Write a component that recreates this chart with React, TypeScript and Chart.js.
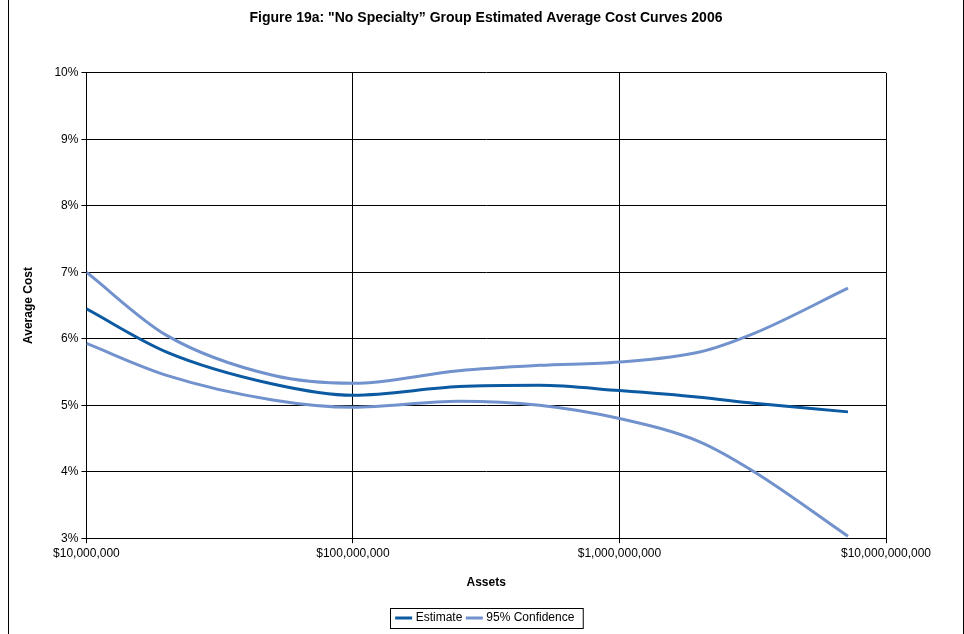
import { useEffect, useRef } from "react"
import { Chart, registerables } from "chart.js"

Chart.register(...registerables)

const assets = [1e7, 2e7, 5e7, 1e8, 2.5e8, 5e8, 1e9, 2e9, 3.2e9, 7.2e9]
const estimate = [6.45, 5.8, 5.32, 5.15, 5.28, 5.3, 5.22, 5.12, 5.03, 4.9]
const upper = [7.0, 6.05, 5.45, 5.33, 5.52, 5.6, 5.65, 5.8, 6.08, 6.76]
const lower = [5.93, 5.45, 5.08, 4.97, 5.06, 5.0, 4.8, 4.45, 4.0, 3.03]
const xTicks = [1e7, 1e8, 1e9, 1e10]

// border round the legend items only
const legendBox = {
  id: "legendBox",
  afterDraw(chart: Chart) {
    const l: any = chart.legend
    if (!l || !l.legendHitBoxes?.length) return
    const boxes = l.legendHitBoxes
    const left = Math.min(...boxes.map((b: any) => b.left)) - 8
    const right = Math.max(...boxes.map((b: any) => b.left + b.width)) + 8
    const top = Math.min(...boxes.map((b: any) => b.top)) - 4
    const bottom = Math.max(...boxes.map((b: any) => b.top + b.height)) + 4
    const ctx = chart.ctx
    ctx.save()
    ctx.strokeStyle = "#000"
    ctx.lineWidth = 1
    ctx.strokeRect(Math.round(left) + 0.5, Math.round(top) + 0.5, right - left, bottom - top)
    ctx.restore()
  },
}

export default function App() {
  const chartRef = useRef<HTMLCanvasElement | null>(null)

  useEffect(() => {
    if (!chartRef.current) return
    const toPts = (ys: number[]) => assets.map((x, i) => ({ x, y: ys[i] }))
    const line = (label: string, ys: number[], color: string, order: number) => ({
      label,
      data: toPts(ys),
      borderColor: color,
      backgroundColor: color,
      borderWidth: 3,
      pointRadius: 0,
      showLine: true,
      order,
      cubicInterpolationMode: "monotone" as const,
    })
    const font = { family: "Liberation Sans", size: 12 }
    const chart = new Chart(chartRef.current, {
      type: "scatter",
      data: {
        datasets: [
          line("Estimate", estimate, "#0b5aa2", 0),
          line("95% Confidence", upper, "#7192cc", 1),
          line("lower", lower, "#7192cc", 1),
        ],
      },
      plugins: [legendBox],
      options: {
        animation: false,
        responsive: false,
        layout: { padding: { left: 8, right: 8, top: 4, bottom: 0 } },
        plugins: {
          title: {
            display: true,
            text: 'Figure 19a: "No Specialty” Group Estimated Average Cost Curves 2006',
            color: "#000",
            font: { family: "Liberation Sans", size: 14, weight: "bold" },
            padding: { top: 6, bottom: 46 },
          },
          legend: {
            position: "bottom",
            labels: {
              filter: (item) => item.text !== "lower",
              usePointStyle: true,
              pointStyle: "line",
              color: "#000",
              font,
              padding: 6,
            },
          },
          tooltip: { enabled: false },
        },
        scales: {
          x: {
            type: "logarithmic",
            min: 1e7,
            max: 1e10,
            afterBuildTicks: (axis) => {
              axis.ticks = xTicks.map((value) => ({ value }))
            },
            ticks: {
              color: "#000",
              font,
              maxRotation: 0,
              callback: (v) => "$" + Number(v).toLocaleString("en-US"),
            },
            grid: { color: "#000", tickLength: 5 },
            border: { color: "#000" },
            title: {
              display: true,
              text: "Assets",
              color: "#000",
              font: { family: "Liberation Sans", size: 12, weight: "bold" },
              padding: { top: 12, bottom: 16 },
            },
          },
          y: {
            min: 3,
            max: 10,
            ticks: {
              stepSize: 1,
              color: "#000",
              font,
              callback: (v) => v + "%",
            },
            grid: { color: "#000", tickLength: 5 },
            border: { color: "#000" },
            title: {
              display: true,
              text: "Average Cost",
              color: "#000",
              font: { family: "Liberation Sans", size: 12, weight: "bold" },
              padding: { bottom: 16 },
            },
          },
          // empty right-hand axis, only to leave room on the right
          spacer: {
            position: "right",
            grid: { display: false },
            ticks: { display: false },
            border: { display: false },
            afterFit: (axis) => {
              axis.width = 69
            },
          },
        },
      },
    })
    return () => chart.destroy()
  }, [])

  return (
    <div
      style={{
        position: "absolute",
        left: 8,
        top: 0,
        width: 954,
        height: 634,
        borderLeft: "1px solid #000",
        borderRight: "1px solid #000",
        background: "#fff",
      }}
    >
      <canvas ref={chartRef} width={954} height={634} />
    </div>
  )
}
